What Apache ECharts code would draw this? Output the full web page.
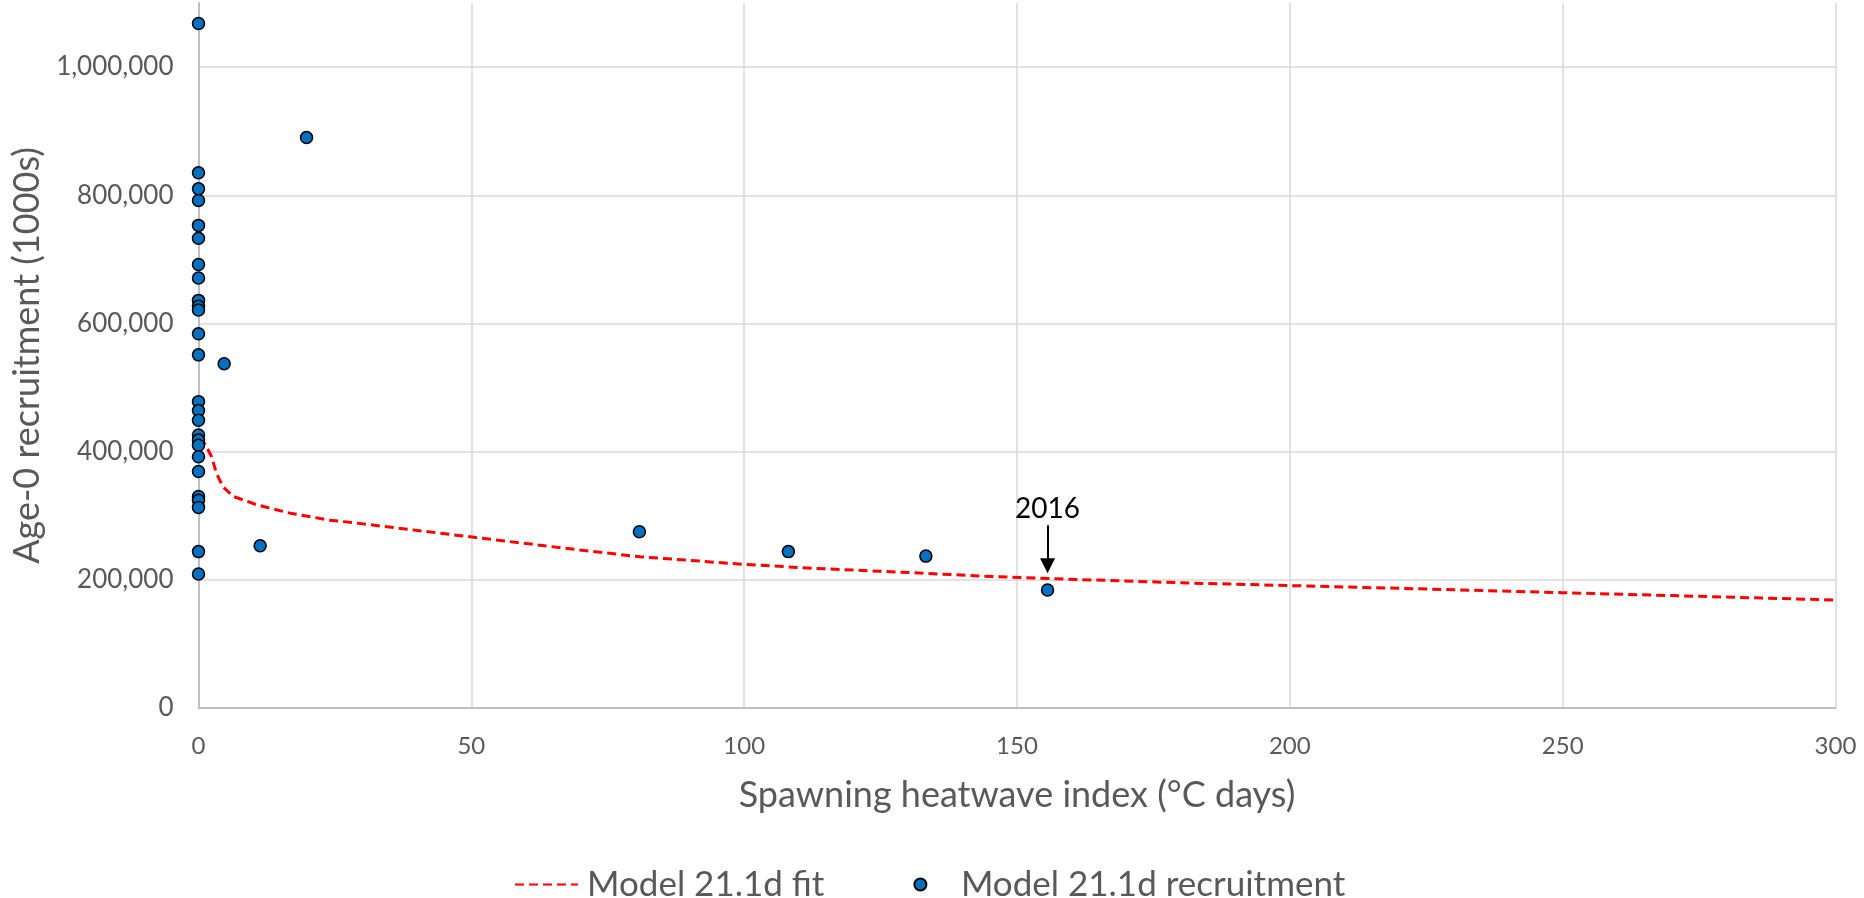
<!DOCTYPE html>
<html>
<head>
<meta charset="utf-8">
<title>Age-0 recruitment vs spawning heatwave index</title>
<script src="https://cdn.jsdelivr.net/npm/echarts@6/dist/echarts.min.js"></script>
<style>
  html, body { margin: 0; padding: 0; background: #ffffff; }
  #chart { width: 1864px; height: 898px; }
</style>
</head>
<body>
<div id="chart"></div>
<script>
// Observed recruitment (1000s) against spawning heatwave index (°C days)
const recruitX = [
  0, 0, 0, 0, 0, 0, 0, 0, 0, 0, 0, 0, 0,
  0, 0, 0, 0, 0, 0, 0, 0, 0, 0, 0, 0, 0,
  4.7, 11.3, 19.8, 80.8, 108.1, 133.3, 155.6
];
const recruitY = [
  1068000, 835000, 810000, 792000, 753000, 733000, 692000, 671000, 636000, 627000, 621000, 584000, 551000,
  478000, 464000, 449000, 426000, 418000, 410000, 392000, 369000, 330000, 324000, 313000, 244000, 209000,
  537000, 253000, 890000, 275000, 244000, 237000, 184000
];

// Model 21.1d fitted curve
const fitX = [0, 1.2, 2.4, 3.3, 4.5, 6.4, 10.7, 16.8, 24.1, 29, 50.8, 69.9, 80.9, 100.2, 112.7, 131, 143.2, 155.6, 181.5, 220, 250, 300];
const fitY = [420000, 412000, 392000, 366000, 345000, 330000, 317000, 304000, 293000, 288500, 266000, 246500, 236000, 224000, 218000, 211000, 206000, 202000, 195000, 186700, 180000, 168500];

// Axis ranges and ticks
const xTicks = { min: 0, max: 300, step: 50 };
const yTicks = { min: 0, max: 1100000, step: 200000 };

// Callout for the 2016 year class
const calloutLabel = '2016';
const calloutX = 155.6;
const calloutFromY = 285000;
const calloutToY = 222000;

const seriesNames = ['Model 21.1d fit', 'Model 21.1d recruitment'];

const FONT = 'Lato, "Open Sans", "Liberation Sans", sans-serif';
const GREY_TEXT = '#595959';

const chart = echarts.init(document.getElementById('chart'), null, { renderer: 'canvas' });

chart.setOption({
  animation: false,
  backgroundColor: '#ffffff',
  textStyle: { fontFamily: FONT },
  grid: { left: 198.5, right: 28.5, top: 3, bottom: 190 },
  legend: {
    data: [
      // dashed line only, no marker in the middle
      { name: seriesNames[0], itemStyle: { color: 'rgba(0,0,0,0)', borderWidth: 0, opacity: 0 } },
      { name: seriesNames[1] }
    ],
    left: 509,
    top: 862,
    itemWidth: 63,
    itemHeight: 12,
    itemGap: 89,
    textStyle: { fontFamily: FONT, fontSize: 35, color: GREY_TEXT, padding: [0, 0, 0, 4] }
  },
  xAxis: {
    type: 'value',
    min: xTicks.min,
    max: xTicks.max,
    interval: xTicks.step,
    name: 'Spawning heatwave index (\u00B0C days)',
    nameLocation: 'middle',
    nameGap: 69,
    nameTextStyle: { fontFamily: FONT, fontSize: 36, color: GREY_TEXT },
    axisLine: { show: true, lineStyle: { color: '#bfbfbf', width: 2 } },
    axisTick: { show: false },
    axisLabel: { margin: 26, fontFamily: FONT, fontSize: 24, color: GREY_TEXT },
    splitLine: { show: true, lineStyle: { color: '#d9d9d9', width: 1.5 } }
  },
  yAxis: {
    type: 'value',
    min: yTicks.min,
    max: yTicks.max,
    interval: yTicks.step,
    name: 'Age-0 recruitment (1000s)',
    nameLocation: 'middle',
    nameGap: 153,
    nameTextStyle: { fontFamily: FONT, fontSize: 36, color: GREY_TEXT },
    axisLine: { show: true, lineStyle: { color: '#bfbfbf', width: 2 } },
    axisTick: { show: false },
    axisLabel: {
      margin: 25,
      fontFamily: FONT,
      fontSize: 26,
      color: GREY_TEXT,
      showMaxLabel: false,
      formatter: v => v.toLocaleString('en-US')
    },
    splitLine: { show: true, showMaxLine: false, lineStyle: { color: '#d9d9d9', width: 1.5 } }
  },
  series: [
    {
      name: seriesNames[0],
      type: 'line',
      data: fitX.map((x, i) => [x, fitY[i]]),
      symbol: 'none',
      showSymbol: false,
      z: 2,
      lineStyle: { color: '#ff0000', width: 3, type: [9, 5] },
      itemStyle: { color: '#ff0000' }
    },
    {
      name: seriesNames[1],
      type: 'scatter',
      data: recruitX.map((x, i) => [x, recruitY[i]]),
      symbol: 'circle',
      symbolSize: 12,
      z: 3,
      itemStyle: { color: '#0070c0', borderColor: '#000000', borderWidth: 1.5, opacity: 1 },
      markLine: {
        silent: true,
        symbol: ['none', 'triangle'],
        symbolSize: [15, 15],
        lineStyle: { color: '#000000', width: 2, type: 'solid' },
        label: {
          show: true,
          position: 'start',
          distance: 2,
          formatter: calloutLabel,
          fontFamily: FONT,
          fontSize: 28,
          color: '#000000'
        },
        data: [[{ coord: [calloutX, calloutFromY] }, { coord: [calloutX, calloutToY] }]]
      }
    }
  ]
});
</script>
</body>
</html>
